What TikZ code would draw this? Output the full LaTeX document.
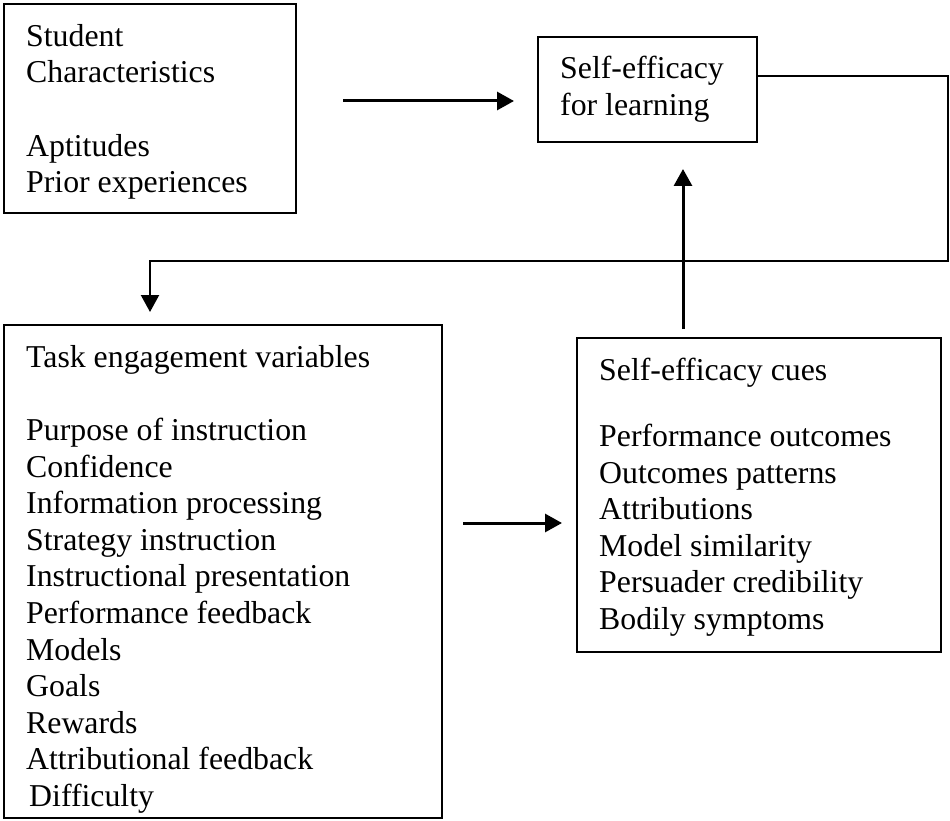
\documentclass[tikz,border=0pt]{standalone}
\usepackage{fontspec}
\setmainfont{Liberation Serif}
\usetikzlibrary{arrows.meta}
\begin{document}
\begin{tikzpicture}[x=1pt,y=-1pt,
  box/.style={draw, line width=1.8pt, rectangle, inner sep=0pt},
  label/.style={anchor=north west, inner sep=0pt, align=left,
    font=\fontsize{31.8}{36.6}\selectfont},
  flow/.style={line width=3pt, -{Triangle[length=17pt,width=18pt]}},
  loop/.style={line width=2.2pt, -{Triangle[length=17pt,width=18pt]}}]
\useasboundingbox (0,0) rectangle (950,821);

% boxes
\node[box, minimum width=292pt, minimum height=209pt] (student) at (150,108.5) {};
\node[box, minimum width=219pt, minimum height=105pt] (selfeff) at (647.5,89.5) {};
\node[box, minimum width=438pt, minimum height=493pt] (task) at (223,571.5) {};
\node[box, minimum width=364pt, minimum height=314pt] (cues) at (759,495) {};

% box texts
\node[label] (studentText) at (26,24) {Student\\Characteristics\\[36.6pt]Aptitudes\\Prior experiences};
\node[label] (selfeffText) at (560,56) {Self-efficacy\\for learning};
\node[label] (taskText) at (26,345) {Task engagement variables\\[36.6pt]Purpose of instruction\\Confidence\\Information processing\\Strategy instruction\\Instructional presentation\\Performance feedback\\Models\\Goals\\Rewards\\Attributional feedback\\\hspace*{3pt}Difficulty};
\node[label] (cuesText) at (599,358) {Self-efficacy cues\\[29.4pt]Performance outcomes\\Outcomes patterns\\Attributions\\Model similarity\\Persuader credibility\\Bodily symptoms};

% connector end points
\coordinate (a1s) at (343,101);
\coordinate (a1e) at (514,101);
\coordinate (a2s) at (463,523);
\coordinate (a2e) at (562,523);
\coordinate (a3s) at (683,329);
\coordinate (a3e) at (683,169);
\coordinate (fb1) at (948,76);
\coordinate (fb2) at (948,261);
\coordinate (fb3) at (150,261);
\coordinate (fb4) at (150,312);

% connectors
\draw[flow] (a1s) -- (a1e);
\draw[flow] (a2s) -- (a2e);
\draw[flow] (a3s) -- (a3e);
\draw[loop] (fb1 -| selfeff.east) -- (fb1) -- (fb2) -- (fb3) -- (fb4);
\end{tikzpicture}
\end{document}
